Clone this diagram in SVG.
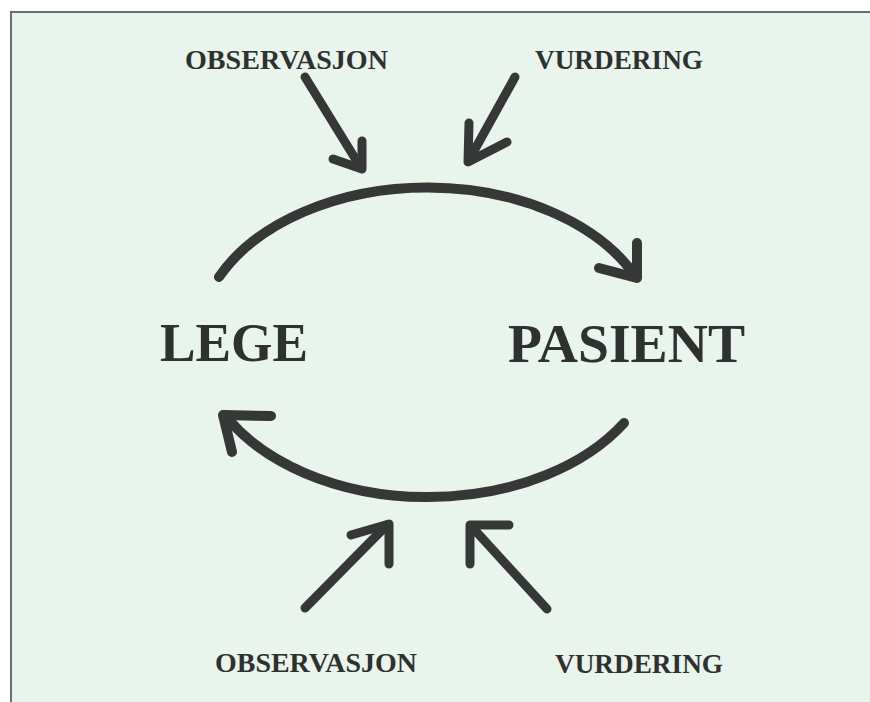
<svg xmlns="http://www.w3.org/2000/svg" width="870" height="702" viewBox="0 0 870 702">
<defs>
<style>
.lbl{font-family:"Liberation Serif","Times New Roman",serif;font-weight:bold;fill:#2f3130;}
.small{font-size:27px;}
.big{font-size:55px;}
.ln{fill:none;stroke:#353836;stroke-linecap:round;stroke-linejoin:round;}
.arc{stroke-width:10;}
.arr{stroke-width:9;}
</style>
</defs>
<rect x="0" y="0" width="870" height="702" fill="#ffffff"/>
<rect x="11" y="12" width="870" height="700" fill="#e9f4ec"/>
<path d="M11 702 L11 12 L870 12" fill="none" stroke="#6a6e6b" stroke-width="2"/>

<g id="lege"><text class="lbl big" x="160" y="361" textLength="148" lengthAdjust="spacingAndGlyphs">LEGE</text></g>
<g id="pasient"><text class="lbl big" x="508" y="362" textLength="237" lengthAdjust="spacingAndGlyphs">PASIENT</text></g>
<g id="obs-top"><text class="lbl small" x="185" y="69" textLength="203" lengthAdjust="spacingAndGlyphs">OBSERVASJON</text></g>
<g id="vurd-top"><text class="lbl small" x="535" y="69" textLength="168" lengthAdjust="spacingAndGlyphs">VURDERING</text></g>
<g id="obs-bottom"><text class="lbl small" x="215" y="672" textLength="202" lengthAdjust="spacingAndGlyphs">OBSERVASJON</text></g>
<g id="vurd-bottom"><text class="lbl small" x="555" y="673" textLength="168" lengthAdjust="spacingAndGlyphs">VURDERING</text></g>

<g id="connectors">
  <!-- top arc LEGE -> PASIENT -->
  <path class="ln arc" d="M219 277 A230 155 0 0 1 636 277"/>
  <path class="ln arc" d="M637 243 L637 278 L599 268"/>
  <!-- bottom arc PASIENT -> LEGE -->
  <path class="ln arc" d="M624 423 A230 155 0 0 1 229 420"/>
  <path class="ln arc" d="M271 416 L223 415 L232 452"/>
  <!-- small arrows -->
  <path class="ln arr" d="M305 77 L361 168"/>
  <path class="ln arr" d="M362 141 L362 169 L333 159"/>
  <path class="ln arr" d="M515 77 L469 160"/>
  <path class="ln arr" d="M469 123 L468 162 L507 142"/>
  <path class="ln arr" d="M305 608 L387 525"/>
  <path class="ln arr" d="M351 535 L389 524 L389 564"/>
  <path class="ln arr" d="M547 609 L472 527"/>
  <path class="ln arr" d="M509 525 L470 525 L470 564"/>
</g>
</svg>
